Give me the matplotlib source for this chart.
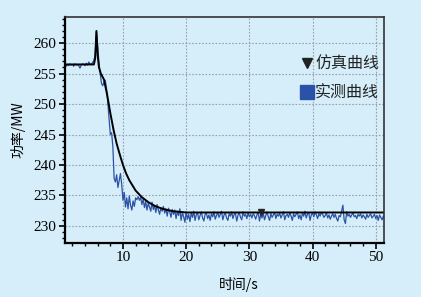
import numpy as np
import matplotlib.pyplot as plt
from matplotlib.lines import Line2D

plt.rcParams['font.family'] = ['Liberation Serif', 'Noto Sans CJK SC', 'DejaVu Sans']

# simulated curve (s, MW)
sim_t = [0.8, 5.4, 5.6, 5.8, 6.0, 6.2, 6.5, 7.0, 7.5, 8.0, 8.5, 9.0, 9.5, 10.0,
         10.5, 11.0, 12.0, 13.0, 14.0, 15.0, 16.0, 17.0, 18.0, 20.0, 22.0, 25.0,
         30.0, 40.0, 51.3]
sim_p = [256.5, 256.5, 257.5, 262.0, 258.0, 256.0, 255.0, 254.0, 251.5, 248.5,
         245.8, 243.5, 241.7, 240.0, 238.6, 237.5, 235.8, 234.7, 233.9, 233.3,
         232.9, 232.6, 232.4, 232.2, 232.2, 232.2, 232.2, 232.2, 232.2]

# measured curve, one sample every 0.2 s from 0.8 s
meas_start = 0.8
meas_step = 0.2
meas_p = [
    256.4, 256.2, 256.5, 256.3, 256.6, 256.4, 256.5, 256.2, 256.6, 256.4,
    256.5, 256.3, 255.9, 256.4, 256.6, 256.5, 256.3, 256.7, 256.4, 256.9,
    256.5, 256.6, 256.8, 257.2, 258.0,
    261.8, 259.5, 256.8, 255.0, 253.4, 253.0, 253.6, 253.9, 252.5, 250.2,
    247.5, 245.0, 245.3, 243.0, 237.8, 237.2, 238.4, 236.3, 237.5, 238.6,
    236.8, 234.2, 235.5, 233.1, 234.6, 232.8, 234.9, 233.4, 232.6, 234.1,
    233.2, 234.6, 234.3, 234.8, 234.2, 234.7, 233.5, 234.4, 233.0, 234.0,
    232.6, 233.7, 233.1, 232.4, 233.9, 232.7, 233.3, 232.2, 233.5, 232.6,
    231.9, 233.0, 232.4, 233.2, 232.1, 232.8, 231.6, 232.9, 232.3, 231.4,
    232.7, 231.9, 232.6, 231.2, 232.4, 231.7, 232.8, 230.9, 232.2, 231.5,
    230.6,
    232.3, 231.1, 231.9, 230.7, 232.1, 231.4, 232.4, 230.9, 231.8, 232.2,
    231.0, 231.7, 232.3, 231.3, 230.8, 231.9, 232.1, 231.2, 231.8, 230.9,
    232.0, 231.5, 232.3, 231.1, 231.7,
    232.2, 231.4, 231.9, 232.4, 231.0, 231.8, 232.1, 231.3, 230.9, 232.0,
    231.6, 232.3, 231.2, 231.9, 232.1, 230.8, 231.7, 232.2, 231.4, 231.0,
    232.3, 231.6, 231.9, 231.2, 232.1,
    231.5, 231.9, 231.3, 232.0, 231.7, 231.1, 231.8, 232.2, 230.8, 231.9,
    231.3, 232.1, 231.0, 231.7, 232.3, 231.5, 230.9, 232.0, 231.4, 231.8,
    232.2, 231.2, 231.9, 231.6, 232.1,
    231.3, 231.8, 232.3, 231.0, 231.7, 231.9, 231.4, 232.2, 231.6, 230.9,
    232.0, 231.5, 231.9, 232.3, 231.2, 231.8, 231.0, 232.1, 231.6, 232.4,
    231.3, 231.9, 232.2, 230.9, 231.8,
    232.1, 231.5, 232.3, 231.8, 231.2, 232.0, 231.6, 232.2, 231.9, 231.4,
    231.7, 232.1, 231.3, 231.8, 231.1, 231.6, 232.0, 231.4, 231.9, 231.2,
    230.8, 231.7, 231.5, 232.4, 233.4,
    231.0, 230.4, 232.3, 231.6, 231.9, 231.4, 231.8, 232.1, 231.5, 231.7,
    231.2, 231.9, 231.6, 232.0, 231.3, 231.8, 231.5, 231.1, 231.9, 231.4,
    231.7, 232.0, 231.3, 231.6, 231.9,
    231.2, 231.7, 230.9, 231.8, 231.4, 231.0, 231.6,
]
meas_t = meas_start + meas_step * np.arange(len(meas_p))

bg = '#d5eefa'
blue = '#2b52a6'

fig = plt.figure(figsize=(4.21, 2.97), dpi=100, facecolor=bg)
ax = fig.add_axes([0.154, 0.182, 0.758, 0.761], facecolor=bg)

ax.plot(meas_t, meas_p, color=blue, lw=0.9)
ax.plot(sim_t, sim_p, color='black', lw=1.4)
ax.plot([31.9], [232.2], 'v', color='#222222', ms=4.5)

ax.set_xlim(0.8, 51.3)
ax.set_ylim(227.2, 264.3)
ax.set_xticks([10, 20, 30, 40, 50])
ax.set_yticks([230, 235, 240, 245, 250, 255, 260])
ax.set_xticks(np.arange(2, 52, 2), minor=True)
ax.set_yticks(np.arange(228, 265, 1), minor=True)
ax.grid(True, which='major', color='#9aa0aa', ls=(0, (1.5, 1.5)), lw=0.8)

ax.tick_params(which='both', direction='out', top=False, right=False,
               labelsize=11, colors='black', pad=2)
ax.tick_params(which='major', length=4, width=1.2)
ax.tick_params(which='minor', length=2.5, width=1)

for side in ['left', 'bottom']:
    ax.spines[side].set_linewidth(1.6)
    ax.spines[side].set_color('black')
for side in ['top', 'right']:
    ax.spines[side].set_linewidth(1.2)
    ax.spines[side].set_color('#333333')

ax.set_xlabel('时间/s', fontsize=10, family=['Noto Sans CJK SC', 'DejaVu Sans'])
ax.set_ylabel('功率/MW', fontsize=10, family=['Noto Sans CJK SC', 'DejaVu Sans'])
ax.xaxis.set_label_coords(0.545, -0.15)
ax.yaxis.set_label_coords(-0.125, 0.5)

handles = [Line2D([], [], ls='none', marker='v', color='#222222', ms=7),
           Line2D([], [], ls='none', marker='s', color=blue, ms=10)]
leg = ax.legend(handles, ['仿真曲线', '实测曲线'], loc='upper right',
                bbox_to_anchor=(0.985, 0.83), frameon=False, borderaxespad=0,
                borderpad=0, handlelength=0.8, handletextpad=0.1,
                labelspacing=0.75, prop={'family': ['Noto Sans CJK SC'], 'size': 11.5})
for t in leg.get_texts():
    t.set_color('#222222')

fig.savefig('out.png', dpi=100, facecolor=bg)
